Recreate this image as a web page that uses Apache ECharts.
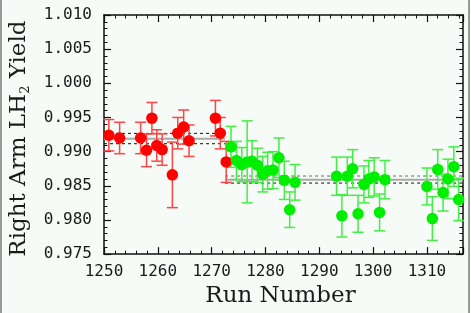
<!DOCTYPE html>
<html>
<head>
<meta charset="utf-8">
<script src="https://cdn.jsdelivr.net/npm/echarts@6/dist/echarts.min.js"></script>
<style>html,body{margin:0;padding:0;background:#f6fbf7;}#c{width:471px;height:313px;}</style>
</head>
<body>
<div id="c"></div>
<script>
// ---- data ----
const redRuns  = [1250.9, 1252.9, 1256.8, 1257.9, 1258.9, 1259.8, 1260.8, 1262.7, 1263.7, 1264.8, 1265.8, 1270.7, 1271.6, 1272.7];
const redYield = [0.9924, 0.9920, 0.9920, 0.9902, 0.9949, 0.9909, 0.9903, 0.9866, 0.9927, 0.9936, 0.9916, 0.9949, 0.9927, 0.9885];
const redErr   = [0.0023, 0.0023, 0.0023, 0.0024, 0.0023, 0.0023, 0.0023, 0.0048, 0.0023, 0.0025, 0.0023, 0.0026, 0.0023, 0.0030];

const greenRuns  = [1273.6, 1274.6, 1275.6, 1276.6, 1277.5, 1278.5, 1279.5, 1280.4, 1281.4, 1282.5, 1283.5, 1284.5, 1285.5,
                    1293.2, 1294.2, 1295.2, 1296.2, 1297.2, 1298.3, 1299.2, 1300.2, 1301.2, 1302.2,
                    1310.0, 1311.0, 1312.0, 1313.0, 1313.9, 1315.0, 1315.9];
const greenYield = [0.9907, 0.9887, 0.9881, 0.9885, 0.9886, 0.9880, 0.9867, 0.9872, 0.9873, 0.9891, 0.9858, 0.9815, 0.9855,
                    0.9864, 0.9806, 0.9864, 0.9875, 0.9809, 0.9852, 0.9860, 0.9863, 0.9811, 0.9859,
                    0.9849, 0.9802, 0.9874, 0.9840, 0.9860, 0.9878, 0.9830];
const greenErr   = [0.0030, 0.0028, 0.0025, 0.0060, 0.0030, 0.0025, 0.0026, 0.0027, 0.0027, 0.0029, 0.0028, 0.0026, 0.0026,
                    0.0028, 0.0031, 0.0028, 0.0028, 0.0027, 0.0027, 0.0027, 0.0028, 0.0027, 0.0028,
                    0.0027, 0.0032, 0.0029, 0.0027, 0.0029, 0.0029, 0.0031];

const redFitRuns   = [1250, 1272.5];
const redFit       = [0.99187, 0.99116, 0.99267];   // mean, lower, upper
const greenFitRuns = [1272.5, 1316.7];
const greenFit     = [0.98587, 0.98540, 0.98643];   // mean, lower, upper

const xTicks = [1250, 1260, 1270, 1280, 1290, 1300, 1310];
const yTicks = [0.975, 0.980, 0.985, 0.990, 0.995, 1.000, 1.005, 1.010];

// ---- chart ----
const X_MIN = 1250, X_MAX = 1316.7, Y_MIN = 0.975, Y_MAX = 1.010;
const tickFont = {fontFamily: 'DejaVu Sans Mono', fontSize: 16, color: '#1a1a1a'};
const titleFont = 'DejaVu Serif';

function errItem(color) {
  return function (params, api) {
    const x = api.value(0), v = api.value(1), e = api.value(2);
    const t = api.coord([x, v + e]), b = api.coord([x, v - e]);
    const hw = 5.5;
    const st = {stroke: color, lineWidth: 1.5};
    return {type: 'group', children: [
      {type: 'line', shape: {x1: t[0], y1: t[1], x2: b[0], y2: b[1]}, style: st},
      {type: 'line', shape: {x1: t[0] - hw, y1: t[1], x2: t[0] + hw, y2: t[1]}, style: st},
      {type: 'line', shape: {x1: b[0] - hw, y1: b[1], x2: b[0] + hw, y2: b[1]}, style: st}
    ]};
  };
}
function fitLines(runs, fit, dashTopColor) {
  const mk = (v) => runs.map(r => [r, v]);
  return [
    {type: 'line', data: mk(fit[0]), symbol: 'none', silent: true, z: 1,
     lineStyle: {color: '#a9a9a9', width: 2}},
    {type: 'line', data: mk(fit[1]), symbol: 'none', silent: true, z: 1,
     lineStyle: {color: '#111', width: 1, type: [3, 3]}},
    {type: 'line', data: mk(fit[2]), symbol: 'none', silent: true, z: 1,
     lineStyle: {color: dashTopColor, width: 1, type: [3, 3]}}
  ];
}

const chart = echarts.init(document.getElementById('c'), null, {renderer: 'canvas'});
const axisLine = {show: true, lineStyle: {color: '#111', width: 1.5}};
chart.setOption({
  backgroundColor: '#f6fbf7',
  animation: false,
  grid: {left: 97, right: 8, top: 15, bottom: 49, containLabel: false},
  xAxis: [
    {type: 'value', min: X_MIN, max: X_MAX, interval: 10, position: 'bottom',
     axisLine: axisLine, splitLine: {show: false},
     axisTick: {inside: true, length: 7, lineStyle: {color: '#111', width: 1.2}},
     minorTick: {show: true, splitNumber: 5, length: 3.5, lineStyle: {color: '#111', width: 1}},
     axisLabel: Object.assign({margin: 10, showMaxLabel: false,
       formatter: v => xTicks.includes(Math.round(v)) ? String(Math.round(v)) : ''}, tickFont),
     name: 'Run Number', nameLocation: 'middle', nameGap: 30,
     nameTextStyle: {fontFamily: titleFont, fontSize: 23, color: '#1a1a1a', padding: [0, 6, 0, 0]}},
    {type: 'value', min: X_MIN, max: X_MAX, interval: 10, position: 'top',
     axisLine: axisLine, splitLine: {show: false}, axisLabel: {show: false},
     axisTick: {inside: true, length: 7, lineStyle: {color: '#111', width: 1.2}},
     minorTick: {show: true, splitNumber: 5, length: 3.5, lineStyle: {color: '#111', width: 1}}}
  ],
  yAxis: [
    {type: 'value', min: Y_MIN, max: Y_MAX, interval: 0.005, position: 'left',
     axisLine: axisLine, splitLine: {show: false},
     axisTick: {inside: true, length: 7, lineStyle: {color: '#111', width: 1.2}},
     minorTick: {show: true, splitNumber: 5, length: 3.5, lineStyle: {color: '#111', width: 1}},
     axisLabel: Object.assign({margin: 12,
       formatter: v => { const t = yTicks.find(k => Math.abs(k - v) < 1e-6); return t === undefined ? '' : t.toFixed(3); }}, tickFont),
     name: 'Right Arm LH{sub|2} Yield', nameLocation: 'middle', nameGap: 72, nameRotate: 90,
     nameTextStyle: {fontFamily: titleFont, fontSize: 23, color: '#1a1a1a', padding: [0, 8, 0, 0],
       rich: {sub: {fontFamily: titleFont, fontSize: 13, color: '#1a1a1a', verticalAlign: 'bottom', padding: [12, 0, 0, 0]}}}},
    {type: 'value', min: Y_MIN, max: Y_MAX, interval: 0.005, position: 'right',
     axisLine: axisLine, splitLine: {show: false}, axisLabel: {show: false},
     axisTick: {inside: true, length: 7, lineStyle: {color: '#111', width: 1.2}},
     minorTick: {show: true, splitNumber: 5, length: 3.5, lineStyle: {color: '#111', width: 1}}}
  ],
  series: [
    ...fitLines(redFitRuns, redFit, '#111'),
    ...fitLines(greenFitRuns, greenFit, '#666'),
    {type: 'custom', z: 2, renderItem: errItem('#ff4545'),
     data: redRuns.map((r, i) => [r, redYield[i], redErr[i]]), encode: {x: 0, y: 1}},
    {type: 'custom', z: 2, renderItem: errItem('#44ee44'),
     data: greenRuns.map((r, i) => [r, greenYield[i], greenErr[i]]), encode: {x: 0, y: 1}},
    {type: 'scatter', z: 3, symbol: 'circle', symbolSize: 11.5, itemStyle: {color: '#ff0000', opacity: 1},
     data: redRuns.map((r, i) => [r, redYield[i]])},
    {type: 'scatter', z: 3, symbol: 'circle', symbolSize: 11.5, itemStyle: {color: '#00ee00', opacity: 1},
     data: greenRuns.map((r, i) => [r, greenYield[i]])}
  ],
  graphic: [
    {type: 'rect', left: 0, top: 0, shape: {width: 2, height: 313}, style: {fill: '#9a9a9a'}},
    {type: 'rect', left: 468, top: 0, shape: {width: 2, height: 313}, style: {fill: '#9a9a9a'}}
  ]
});
</script>
</body>
</html>
